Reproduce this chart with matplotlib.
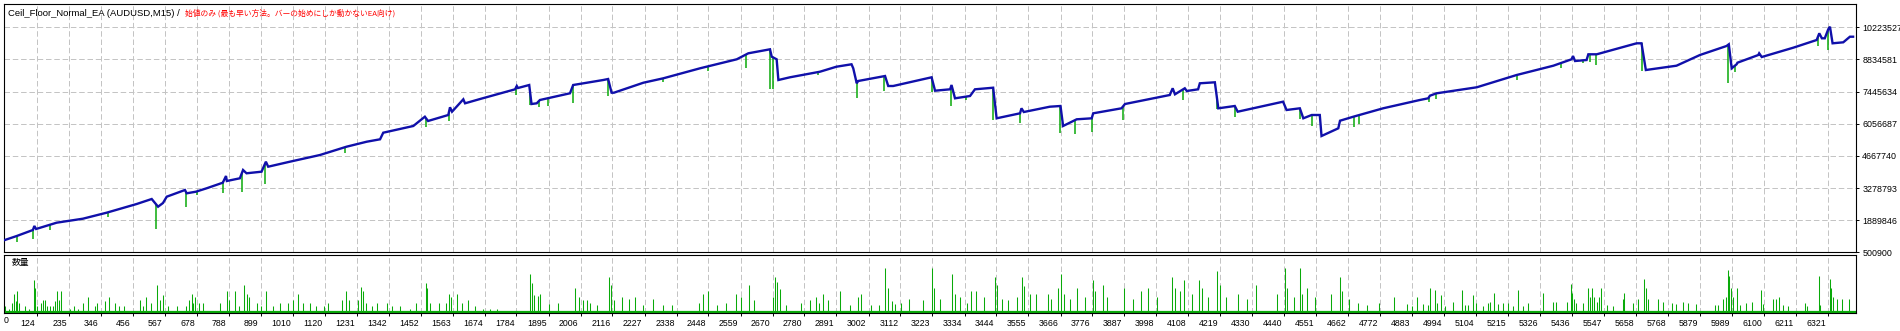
import matplotlib
matplotlib.use("Agg")
import matplotlib.pyplot as plt
import matplotlib.transforms as mtransforms
import numpy as np

# --- data ------------------------------------------------------------------
title_main = "Ceil_Floor_Normal_EA (AUDUSD,M15) /"
title_mode = "始値のみ (最も早い方法。バーの始めにしか動かないEA向け)"
volume_label = "数量"

# balance curve (trade number, balance in thousands)
bal_trade = [14, 55, 111, 116, 122, 193, 284, 366, 470, 522,
             544, 561, 574, 637, 643, 675, 712, 768, 779, 782,
             827, 838, 850, 902, 917, 925, 1000, 1104, 1196, 1266,
             1312, 1323, 1427, 1467, 1478, 1548, 1554, 1561, 1600, 1606,
             1658, 1779, 1785, 1789, 1828, 1836, 1854, 1865, 1969, 1980,
             2084, 2101, 2113, 2121, 2223, 2292, 2419, 2546, 2586, 2661,
             2667, 2684, 2690, 2730, 2834, 2891, 2943, 2949, 2961, 2966,
             3059, 3070, 3087, 3220, 3232, 3284, 3289, 3301, 3353, 3370,
             3433, 3445, 3526, 3531, 3539, 3629, 3666, 3675, 3722, 3774,
             3779, 3877, 3889, 4044, 4054, 4062, 4096, 4103, 4142, 4148,
             4200, 4212, 4269, 4279, 4436, 4448, 4494, 4506, 4535, 4563,
             4569, 4627, 4633, 4679, 4782, 4909, 4938, 4944, 4967, 5106,
             5244, 5371, 5434, 5439, 5446, 5486, 5492, 5521, 5659, 5676,
             5691, 5797, 5878, 5970, 5978, 5988, 6005, 6008, 6080, 6083,
             6092, 6201, 6282, 6291, 6300, 6310, 6322, 6328, 6337, 6374,
             6397, 6408]
bal_k = [1033, 1205, 1465, 1638, 1508, 1780, 1953, 2212, 2588, 2804,
         2471, 2631, 2904, 3193, 3050, 3120, 3267, 3509, 3798, 3582,
         3699, 4057, 3915, 3984, 4416, 4200, 4416, 4705, 5064, 5280,
         5384, 5669, 5959, 6360, 6175, 6434, 6767, 6577, 7112, 6939,
         7125, 7544, 7687, 7600, 7730, 6909, 6939, 7082, 7372, 7730,
         7946, 7989, 7397, 7397, 7829, 8020, 8452, 8841, 9100, 9273,
         8953, 8841, 7946, 8063, 8305, 8521, 8625, 8452, 7804, 7903,
         8119, 7687, 7687, 8063, 7484, 7544, 7730, 7155, 7255, 7544,
         7613, 6291, 6507, 6723, 6563, 6792, 6823, 5959, 6248, 6291,
         6507, 6723, 6909, 7298, 7588, 7328, 7588, 7471, 7544, 7804,
         7847, 6723, 6823, 6576, 7009, 6650, 6723, 6291, 6434, 6434,
         5526, 5859, 6187, 6360, 6723, 7082, 7155, 7268, 7371, 7631,
         8162, 8564, 8841, 8983, 8767, 8810, 9057, 9057, 9532, 9532,
         8378, 8564, 9026, 9415, 9489, 8452, 8625, 8694, 9026, 9100,
         8940, 9342, 9675, 9964, 9748, 9748, 10137, 10249, 9532, 9575,
         9817, 9817]

# equity lows that poke out below the balance (trade number, equity in thousands)
dip_trade = [55, 112, 170, 372, 537, 640, 677, 770, 834, 914,
             1060, 1190, 1471, 1551, 1782, 1830, 1862, 1892, 1980, 2099,
             2290, 2445, 2578, 2661, 2670, 2826, 2961, 3056, 3220, 3287,
             3339, 3431, 3526, 3664, 3716, 3774, 3881, 4090, 4208, 4269,
             4494, 4535, 4682, 4699, 4940, 4964, 5246, 5397, 5474, 5497,
             5518, 5676, 5974, 5999, 6287, 6320]
dip_k = [959, 1063, 1465, 2013, 1521, 2471, 2977, 3050, 3120, 3452,
         4520, 4805, 5902, 6187, 7298, 6866, 6767, 6823, 6965, 7268,
         7873, 8348, 8478, 7544, 7544, 8162, 7182, 7484, 7441, 6823,
         7082, 6218, 6075, 5669, 5613, 5712, 6218, 7082, 6680, 6334,
         6248, 5959, 5928, 6045, 7009, 7112, 7946, 8452, 8694, 8737,
         8594, 8348, 7829, 8305, 9415, 9242]

# lots per trade (relative height)
vol_trade = [14, 29, 37, 45, 51, 57, 62, 83, 98, 116,
             119, 124, 138, 145, 152, 161, 170, 182, 188, 195,
             202, 208, 239, 253, 268, 283, 303, 326, 334, 360,
             375, 395, 409, 426, 481, 493, 501, 519, 541, 550,
             562, 577, 608, 640, 652, 660, 666, 672, 687, 700,
             758, 781, 788, 811, 825, 842, 853, 860, 887, 899,
             919, 943, 966, 994, 1012, 1029, 1046, 1069, 1092, 1118,
             1133, 1179, 1194, 1205, 1237, 1245, 1252, 1265, 1283, 1300,
             1335, 1352, 1381, 1415, 1438, 1471, 1475, 1485, 1517, 1540,
             1551, 1559, 1577, 1594, 1617, 1640, 1669, 1692, 1715,
             1830, 1836, 1844, 1859, 1867, 1896, 1927, 1985, 2000, 2014,
             2027, 2039, 2064, 2105, 2112, 2122, 2149, 2172, 2193, 2222,
             2255, 2290, 2321, 2415, 2429, 2448, 2477, 2508, 2545, 2560,
             2587, 2607, 2670, 2678, 2684, 2695, 2715, 2767, 2798, 2819,
             2829, 2844, 2860, 2902, 2939, 2964, 2977, 3010, 3037, 3060,
             3068, 3082, 3093, 3113, 3142, 3192, 3223, 3230, 3250, 3292,
             3300, 3317, 3342, 3358, 3373, 3400, 3441, 3447, 3462, 3483,
             3514, 3532, 3539, 3561, 3582, 3624, 3632, 3659, 3669, 3678,
             3700, 3723, 3752, 3777, 3785, 3814, 3827, 3887, 3918, 3943,
             3970, 4001, 4053, 4063, 4078, 4094, 4121, 4146, 4157, 4177,
             4208, 4219, 4240, 4281, 4312, 4341, 4416, 4441, 4449, 4474,
             4495, 4503, 4520, 4545, 4603, 4632, 4640, 4665, 4696, 4727,
             4768, 4820,
             4863, 4881, 4900, 4921, 4938, 4946, 4961, 4967, 4981, 4996,
             5025, 5054, 5065, 5077, 5092, 5105, 5129, 5146, 5152, 5167,
             5180, 5198, 5215, 5232, 5250, 5265, 5284, 5336, 5371, 5380,
             5417, 5433, 5436, 5442, 5451, 5474, 5492, 5497, 5504, 5511,
             5521, 5530, 5536, 5555, 5578, 5611, 5615, 5647, 5665, 5685,
             5690, 5699, 5734, 5751, 5783, 5797, 5818, 5838, 5866, 5930,
             5941, 5959, 5968, 5976, 5979, 5984, 5991, 6005, 6016, 6039,
             6057, 6088, 6097, 6132, 6143, 6150, 6166, 6184, 6241, 6249,
             6291, 6295, 6328, 6331, 6337, 6351, 6371, 6395]
vol_lots = [6, 3, 9, 18, 11, 21, 9, 6, 3, 32,
            24, 6, 9, 12, 12, 6, 6, 6, 11, 21,
            12, 21, 3, 6, 3, 9, 15, 6, 9, 11,
            15, 9, 6, 6, 12, 6, 15, 9, 27, 12,
            17, 6, 6, 6, 12, 18, 9, 15, 9, 9,
            9, 21, 12, 21, 6, 27, 18, 15, 9, 6,
            21, 6, 9, 9, 12, 18, 9, 9, 6, 6,
            9, 12, 21, 12, 12, 25, 21, 9, 6, 9,
            9, 6, 6, 3, 9, 29, 24, 9, 9, 9,
            18, 15, 18, 9, 12, 6, 3, 3, 3,
            38, 29, 17, 16, 18, 8, 9, 24, 15, 12,
            12, 9, 7, 35, 27, 12, 15, 13, 15, 7,
            13, 7, 7, 9, 18, 21, 7, 9, 18, 15,
            27, 12, 15, 35, 30, 23, 7, 9, 12, 15,
            9, 18, 12, 21, 7, 15, 18, 7, 7, 44,
            24, 11, 8, 9, 13, 12, 44, 24, 13, 38,
            18, 15, 9, 21, 21, 15, 35, 27, 13, 12,
            15, 35, 26, 18, 18, 18, 13, 24, 38, 18,
            13, 24, 15, 32, 21, 27, 15, 24, 13, 21,
            24, 15, 35, 24, 21, 32, 18, 32, 24, 15,
            41, 27, 15, 18, 13, 27, 18, 44, 24, 15,
            44, 18, 24, 15, 18, 35, 21, 13, 9, 7,
            9, 15,
            8, 6, 15, 8, 7, 24, 22, 9, 17, 6,
            10, 22, 7, 7, 17, 9, 6, 9, 10, 19,
            8, 9, 9, 6, 22, 6, 9, 19, 10, 10,
            10, 28, 19, 13, 9, 9, 24, 15, 24, 15,
            10, 15, 24, 7, 6, 13, 19, 9, 13, 33,
            24, 13, 13, 10, 9, 8, 10, 9, 8, 7,
            7, 13, 15, 42, 36, 24, 15, 24, 7, 9,
            10, 22, 8, 13, 13, 15, 7, 6, 9, 6,
            36, 7, 33, 24, 15, 13, 13, 13]

x_ticks = [124, 235, 346, 456, 567, 678, 788, 899, 1010, 1120, 1231, 1342,
           1452, 1563, 1674, 1784, 1895, 2006, 2116, 2227, 2338, 2448, 2559,
           2670, 2780, 2891, 3002, 3112, 3223, 3334, 3444, 3555, 3666, 3776,
           3887, 3998, 4108, 4219, 4330, 4440, 4551, 4662, 4772, 4883, 4994,
           5104, 5215, 5326, 5436, 5547, 5658, 5768, 5879, 5989, 6100, 6211,
           6321]
y_ticks = [500900, 1889846, 3278793, 4667740, 6056687, 7445634, 8834581,
           10223527]

# --- styling ----------------------------------------------------------------
W, H = 1900, 331
BLUE = "#1010aa"
GREEN = "#0aaa0a"
GRID = "#c4c4c4"
TICK_FONT = ["Liberation Sans", "DejaVu Sans"]

fig = plt.figure(figsize=(W / 100, H / 100), dpi=100)
fig.patch.set_facecolor("white")


def px_axes(left, top, right, bottom):
    return fig.add_axes([left / W, 1 - bottom / H, (right - left) / W, (bottom - top) / H])


ax = px_axes(4, 4, 1855.7, 252.3)
axv = px_axes(4, 255, 1855.7, 313)

x_lo, x_hi = 11, 6417
for a in (ax, axv):
    a.set_xlim(x_lo, x_hi)
    a.set_facecolor("white")
    for s in a.spines.values():
        s.set_linewidth(0.8)
        s.set_color("black")
    a.set_xticks(x_ticks)
    a.grid(True, axis="x", color=GRID, lw=0.72, linestyle=(0, (5.5, 2.8)))
    a.set_axisbelow(True)

# main panel: balance + equity
bal = np.array(bal_k) * 1000
dip = np.array(dip_k) * 1000
dip_top = np.interp(dip_trade, bal_trade, bal)
ax.vlines(dip_trade, dip, dip_top, color=GREEN, lw=1.1, zorder=2)
ax.plot(bal_trade, bal, color=BLUE, lw=1.7, zorder=3, solid_joinstyle="miter")

top_val = y_ticks[-1] + (27.3 - 4) * (y_ticks[-1] - y_ticks[0]) / 225.0
ax.set_ylim(y_ticks[0], top_val)
ax.set_yticks(y_ticks)
ax.set_yticklabels([str(v) for v in y_ticks], family=TICK_FONT, fontsize=6.4)
ax.yaxis.tick_right()
ax.tick_params(axis="y", length=2.5, width=0.7, pad=2.2, colors="black")
ax.tick_params(axis="x", length=0, labelbottom=False)
ax.grid(True, axis="y", color=GRID, lw=0.72, linestyle=(0, (5.5, 2.8)))

# volume panel
axv.vlines(vol_trade, 0, vol_lots, color=GREEN, lw=0.75, zorder=2)
axv.axhline(0, color=GREEN, lw=1.6, zorder=2)
axv.set_ylim(-1, 57)
axv.set_yticks([])
axv.set_xticks([33], labels=["0"], minor=True)
axv.set_xticklabels([str(v) for v in x_ticks])
axv.tick_params(axis="x", which="both", length=2, width=0.7, pad=2.5,
                labelsize=6.3, colors="black")
axv.tick_params(axis="x", which="minor", length=0)
shift = mtransforms.ScaledTranslation(-2 / 100, 0, fig.dpi_scale_trans)
for lab in axv.get_xticklabels(which="both"):
    lab.set_ha("right")
    lab.set_family(TICK_FONT)
    lab.set_transform(lab.get_transform() + shift)

axv.text(8 / (1851.7), 0.87, volume_label, transform=axv.transAxes,
         family=["Noto Sans CJK JP", "DejaVu Sans"], fontsize=6.3,
         va="center", ha="left", color="black")

# title line
t1 = fig.text(8 / W, 1 - 13 / H, title_main, family=TICK_FONT, fontsize=6.8,
              color="black", va="center", ha="left")
ax.annotate(title_mode, xy=(1, 0.5), xycoords=t1, xytext=(5, 0),
            textcoords="offset pixels", va="center", ha="left",
            family=["Noto Sans CJK JP", "DejaVu Sans"], fontsize=5.6,
            color="#ff0000", annotation_clip=False)

fig.savefig("out.png", dpi=100, facecolor="white")
